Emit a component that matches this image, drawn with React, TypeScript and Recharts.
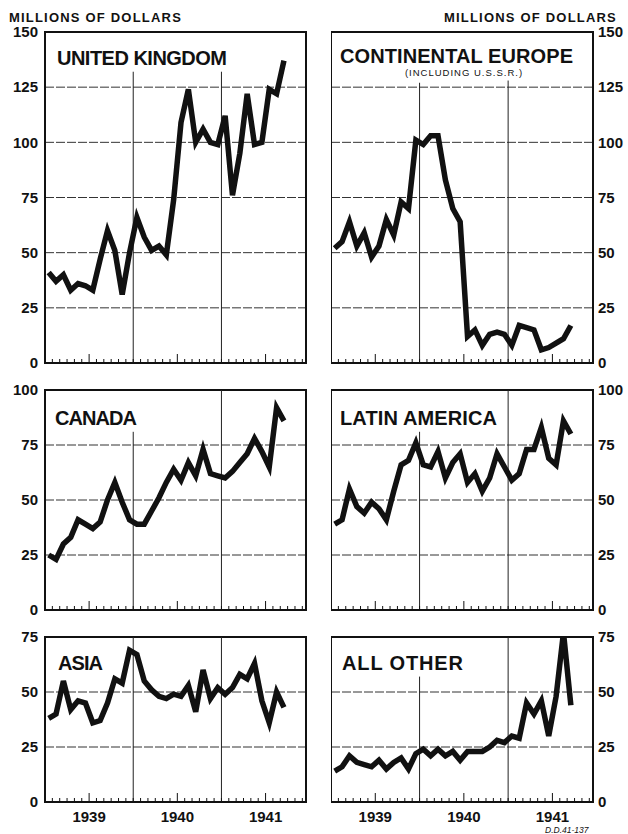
import React from "react";
import { CartesianGrid, Line, LineChart, ReferenceArea, ReferenceLine, XAxis, YAxis } from "recharts";

// monthly, Jan 1939 - Sep 1941
const MONTHS = [
  "Jan 1939", "Feb 1939", "Mar 1939", "Apr 1939", "May 1939", "Jun 1939",
  "Jul 1939", "Aug 1939", "Sep 1939", "Oct 1939", "Nov 1939", "Dec 1939",
  "Jan 1940", "Feb 1940", "Mar 1940", "Apr 1940", "May 1940", "Jun 1940",
  "Jul 1940", "Aug 1940", "Sep 1940", "Oct 1940", "Nov 1940", "Dec 1940",
  "Jan 1941", "Feb 1941", "Mar 1941", "Apr 1941", "May 1941", "Jun 1941",
  "Jul 1941", "Aug 1941", "Sep 1941",
];

const UNITED_KINGDOM = [41, 37, 40, 33, 36, 35, 33, 47, 60, 51, 31, 50, 66, 57, 51, 53, 49, 74, 109, 124, 100, 106, 100, 99, 112, 76, 95, 122, 99, 100, 124, 122, 137];
const CONTINENTAL_EUROPE = [52, 55, 64, 53, 59, 48, 53, 65, 58, 73, 70, 101, 99, 103, 103, 83, 70, 64, 12, 15, 8, 13, 14, 13, 8, 17, 16, 15, 6, 7, 9, 11, 17];
const CANADA = [25, 23, 30, 33, 41, 39, 37, 40, 50, 58, 49, 41, 39, 39, 45, 51, 58, 64, 59, 67, 61, 73, 62, 61, 60, 63, 67, 71, 78, 72, 65, 92, 86];
const LATIN_AMERICA = [39, 41, 55, 47, 44, 49, 46, 41, 54, 66, 68, 76, 66, 65, 72, 60, 67, 71, 58, 62, 54, 60, 71, 65, 59, 62, 73, 73, 83, 69, 66, 86, 80];
const ASIA = [38, 40, 55, 42, 46, 45, 36, 37, 45, 56, 54, 69, 67, 55, 51, 48, 47, 49, 48, 53, 41, 60, 47, 52, 49, 52, 58, 56, 63, 46, 36, 50, 43];
const ALL_OTHER = [14, 16, 21, 18, 17, 16, 19, 15, 18, 20, 15, 22, 24, 21, 24, 21, 23, 19, 23, 23, 23, 25, 28, 27, 30, 29, 45, 40, 46, 30, 48, 77, 44];

const MONTH_TICKS = [1, 2, 3, 4, 5, 6, 7, 8, 9, 10, 11, 12, 13, 14, 15, 16, 17, 18, 19, 20, 21, 22, 23, 24, 25, 26, 27, 28, 29, 30, 31, 32, 33, 34, 35];
const YEARS = ["1939", "1940", "1941"];
const TICKS_150 = [0, 25, 50, 75, 100, 125, 150];
const TICKS_100 = [0, 25, 50, 75, 100];
const TICKS_75 = [0, 25, 50, 75];

const FONT = "'Liberation Sans', Arial, sans-serif";
const INK = "#111";
const X_MAX = 35.5;

const panels = [
  { key: "uk", values: UNITED_KINGDOM, ticks: TICKS_150, side: "left", top: 32, plotH: 331, grid: [132, 132], years: false },
  { key: "ce", values: CONTINENTAL_EUROPE, ticks: TICKS_150, side: "right", top: 32, plotH: 331, grid: [127, 128], years: false },
  { key: "ca", values: CANADA, ticks: TICKS_100, side: "left", top: 390, plotH: 220, grid: [81, 100], years: false },
  { key: "la", values: LATIN_AMERICA, ticks: TICKS_100, side: "right", top: 390, plotH: 220, grid: [81, 100], years: false },
  { key: "as", values: ASIA, ticks: TICKS_75, side: "left", top: 637, plotH: 165, grid: [75, 75], years: true },
  { key: "ao", values: ALL_OTHER, ticks: TICKS_75, side: "right", top: 637, plotH: 165, grid: [57, 75], years: true },
];

function MonthTick(props: any) {
  const { x, y, payload, showYears } = props;
  const v = payload.value;
  const isMid = v % 12 === 6;
  return (
    <g>
      <line x1={x} x2={x} y1={y} y2={y - (isMid ? 9 : 4)} stroke={INK} strokeWidth={1} />
      {showYears && isMid && (
        <text x={x} y={y + 20} textAnchor="middle" fontFamily={FONT} fontWeight={700} fontSize={15} fill={INK}>
          {YEARS[(v - 6) / 12]}
        </text>
      )}
    </g>
  );
}

function Panel({ p }: { p: (typeof panels)[number] }) {
  const data = MONTHS.map((m, i) => ({ month: m, x: i + 0.5, v: p.values[i] }));
  const yMax = p.ticks[p.ticks.length - 1];
  const isLeft = p.side === "left";
  const marginTop = 10;
  const axisH = 30;
  const width = isLeft ? 314 : 297;
  const left = isLeft ? 0 : 331;
  return (
    <div style={{ position: "absolute", left, top: p.top - marginTop }}>
      <LineChart
        width={width}
        height={marginTop + p.plotH + axisH}
        data={data}
        margin={{ top: marginTop, right: isLeft ? 8 : 0, left: 0, bottom: 0 }}
      >
        <CartesianGrid vertical={false} stroke="#333" strokeDasharray="9 2" strokeWidth={1} />
        <XAxis
          type="number"
          dataKey="x"
          domain={[0, X_MAX]}
          ticks={MONTH_TICKS}
          interval={0}
          height={axisH}
          axisLine={false}
          tickLine={false}
          tickSize={0}
          tickMargin={0}
          tick={(tp: any) => <MonthTick {...tp} showYears={p.years} />}
        />
        <YAxis
          type="number"
          orientation={isLeft ? "left" : "right"}
          width={isLeft ? 45 : 35}
          domain={[0, yMax]}
          ticks={p.ticks}
          interval={0}
          allowDataOverflow
          axisLine={false}
          tickLine={false}
          tickSize={0}
          tickMargin={isLeft ? 7 : 5}
          tick={{ fill: INK, fontSize: 15, fontFamily: FONT, fontWeight: 700 }}
        />
        <ReferenceLine segment={[{ x: 12, y: 0 }, { x: 12, y: p.grid[0] }]} stroke="#222" strokeWidth={1} />
        <ReferenceLine segment={[{ x: 24, y: 0 }, { x: 24, y: p.grid[1] }]} stroke="#222" strokeWidth={1} />
        <Line
          type="linear"
          dataKey="v"
          stroke={INK}
          strokeWidth={5.5}
          dot={false}
          isAnimationActive={false}
        />
        <ReferenceArea x1={0} x2={X_MAX} y1={0} y2={yMax} fill="none" stroke={INK} strokeWidth={2} />
      </LineChart>
    </div>
  );
}

export default function App() {
  const title = { fontFamily: FONT, fontWeight: 700, fontSize: 20, fill: INK } as const;
  return (
    <div style={{ position: "absolute", left: 0, top: 0, width: 628, height: 834, background: "#fff", overflow: "hidden" }}>
      {panels.map((p) => (
        <Panel key={p.key} p={p} />
      ))}
      <svg width={628} height={834} style={{ position: "absolute", left: 0, top: 0, pointerEvents: "none" }}>
        <text x={9} y={22} fontFamily={FONT} fontSize={13} fontWeight={700} letterSpacing={1.2} fill={INK}>
          MILLIONS OF DOLLARS
        </text>
        <text x={617} y={22} textAnchor="end" fontFamily={FONT} fontSize={13} fontWeight={700} letterSpacing={1.2} fill={INK}>
          MILLIONS OF DOLLARS
        </text>
        <text x={57} y={65} textLength={170} {...title}>UNITED KINGDOM</text>
        <text x={340} y={63} textLength={233} {...title}>CONTINENTAL EUROPE</text>
        <text x={464} y={76} textAnchor="middle" fontFamily={FONT} fontSize={9.5} letterSpacing={1} fill={INK}>
          (INCLUDING U.S.S.R.)
        </text>
        <text x={55} y={425} textLength={82} {...title}>CANADA</text>
        <text x={340} y={425} textLength={157} {...title}>LATIN AMERICA</text>
        <text x={58} y={670} textLength={45} {...title}>ASIA</text>
        <text x={342} y={670} textLength={121} {...title}>ALL OTHER</text>
        <text x={545} y={833} fontFamily={FONT} fontSize={8.5} fontStyle="italic" fill={INK}>
          D.D.41-137
        </text>
      </svg>
    </div>
  );
}
